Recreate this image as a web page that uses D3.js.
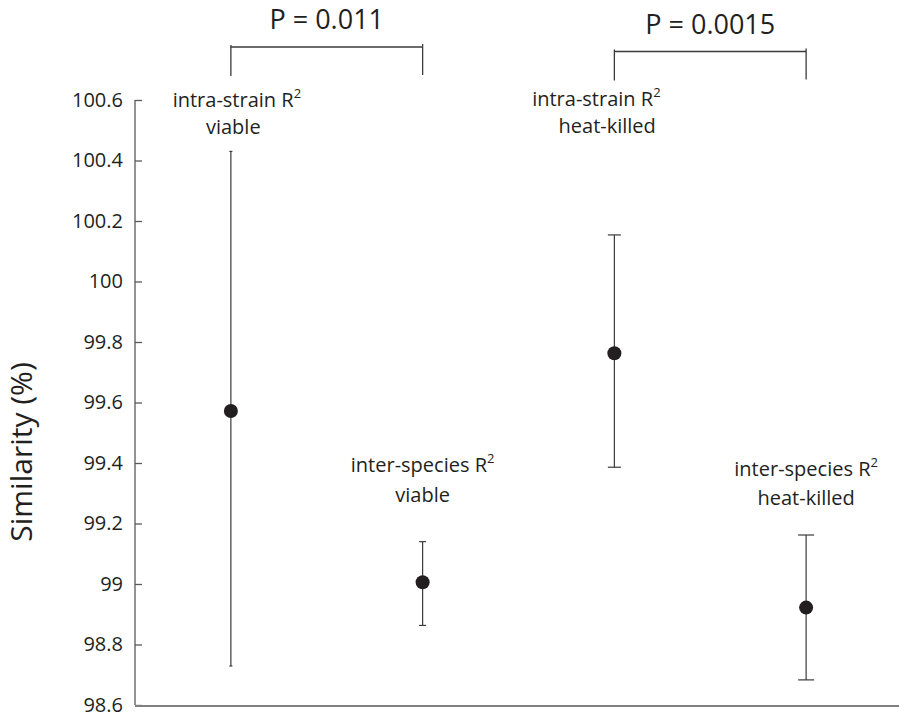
<!DOCTYPE html>
<html>
<head>
<meta charset="utf-8">
<script src="https://cdn.jsdelivr.net/npm/d3@7"></script>
<style>
  html, body { margin: 0; padding: 0; background: #fff; }
  svg { display: block; font-family: "Open Sans", "Noto Sans", sans-serif; }
</style>
</head>
<body>
<svg id="chart" width="899" height="720"></svg>
<script>
// Groups shown along the x axis
const categories = ["intra-viable", "inter-viable", "intra-heat", "inter-heat"];
const labelMain = ["intra-strain R", "inter-species R", "intra-strain R", "inter-species R"];
const labelSub = ["viable", "viable", "heat-killed", "heat-killed"];

// Mean similarity (%) and the ends of each error bar
const meanValues  = [99.572, 99.006, 99.763, 98.922];
const upperValues = [100.43, 99.14, 100.154, 99.162];
const lowerValues = [98.729, 98.863, 99.386, 98.683];

// Y axis ticks
const tickValues = [98.6, 98.8, 99.0, 99.2, 99.4, 99.6, 99.8, 100.0, 100.2, 100.4, 100.6];
const tickLabels = ["98.6", "98.8", "99", "99.2", "99.4", "99.6", "99.8", "100", "100.2", "100.4", "100.6"];

// Pairwise comparisons drawn as brackets above the groups
const compareFrom = [0, 2];
const compareTo = [1, 3];
const compareText = ["P = 0.011", "P = 0.0015"];

const svg = d3.select("#chart");
const ink = "#231f20";

const y = d3.scaleLinear().domain([98.6, 100.6]).range([705, 100]);
const x = d3.scaleBand().domain(categories).range([135, 902]);
const cx = c => x(c) + x.bandwidth() / 2;

// Axes
const yAxis = d3.axisLeft(y)
  .tickValues(tickValues)
  .tickFormat((d, i) => tickLabels[i])
  .tickSize(-7)
  .tickSizeOuter(0)
  .tickPadding(12);

const gy = svg.append("g").attr("transform", "translate(135,0)").call(yAxis);
gy.select(".domain").remove();
gy.selectAll(".tick line").attr("stroke", "#58595b").attr("stroke-width", 1.3);
gy.selectAll(".tick text")
  .attr("font-size", 20)
  .attr("font-family", "Open Sans, Noto Sans, sans-serif")
  .attr("fill", ink);

svg.append("line")
  .attr("x1", 135).attr("x2", 135)
  .attr("y1", y(100.6)).attr("y2", y(98.6))
  .attr("stroke", "#58595b").attr("stroke-width", 1.3);

svg.append("line")
  .attr("x1", 135).attr("x2", 899)
  .attr("y1", y(98.6) + 1).attr("y2", y(98.6) + 1)
  .attr("stroke", "#808080").attr("stroke-width", 2);

svg.append("text")
  .attr("transform", "translate(32,452) rotate(-90)")
  .attr("text-anchor", "middle")
  .attr("font-size", 30)
  .attr("fill", ink)
  .text("Similarity (%)");

// Error bars with caps
const capHalf = [1.5, 3.5, 6.5, 8];
const bars = svg.append("g");
categories.forEach((c, i) => {
  const px = cx(c);
  bars.append("line")
    .attr("x1", px).attr("x2", px)
    .attr("y1", y(upperValues[i])).attr("y2", y(lowerValues[i]))
    .attr("stroke", "#3a3a3a").attr("stroke-width", 1.2);
  [upperValues[i], lowerValues[i]].forEach(v => {
    bars.append("line")
      .attr("x1", px - capHalf[i]).attr("x2", px + capHalf[i])
      .attr("y1", y(v)).attr("y2", y(v))
      .attr("stroke", "#3a3a3a").attr("stroke-width", 1.2);
  });
});

// Means
svg.append("g").selectAll("circle")
  .data(categories)
  .join("circle")
  .attr("cx", c => cx(c))
  .attr("cy", (c, i) => y(meanValues[i]))
  .attr("r", 7)
  .attr("fill", ink);

// Group labels (line 1 with superscript 2, line 2 condition)
const labelPos = [
  { dx: 6, y1: 107, y2: 134 },
  { dx: 0, y1: 472, y2: 502 },
  { dx: -18, y1: 106, y2: 133 },
  { dx: 0, y1: 476, y2: 505 }
];
categories.forEach((c, i) => {
  const px = cx(c) + labelPos[i].dx;
  const t1 = svg.append("text")
    .attr("x", px).attr("y", labelPos[i].y1)
    .attr("text-anchor", "middle")
    .attr("font-size", 20)
    .attr("fill", ink);
  t1.append("tspan").text(labelMain[i]);
  t1.append("tspan").attr("dy", -9).attr("font-size", 13).text("2");
  svg.append("text")
    .attr("x", cx(c) + labelPos[i].dx * 0.4).attr("y", labelPos[i].y2)
    .attr("text-anchor", "middle")
    .attr("font-size", 20)
    .attr("fill", ink)
    .text(labelSub[i]);
});

// Significance brackets
const bracketY = [47, 51.5];
compareFrom.forEach((a, k) => {
  const x1 = cx(categories[a]);
  const x2 = cx(categories[compareTo[k]]);
  const by = bracketY[k];
  const g = svg.append("g").attr("stroke", "#3a3a3a").attr("stroke-width", 1.3);
  g.append("line").attr("x1", x1).attr("x2", x2).attr("y1", by).attr("y2", by);
  g.append("line").attr("x1", x1).attr("x2", x1).attr("y1", by - 2).attr("y2", by + 29);
  g.append("line").attr("x1", x2).attr("x2", x2).attr("y1", by - 3).attr("y2", by + 28);
  svg.append("text")
    .attr("x", (x1 + x2) / 2)
    .attr("y", by - 18)
    .attr("text-anchor", "middle")
    .attr("font-size", 27)
    .attr("fill", ink)
    .text(compareText[k]);
});
</script>
</body>
</html>
